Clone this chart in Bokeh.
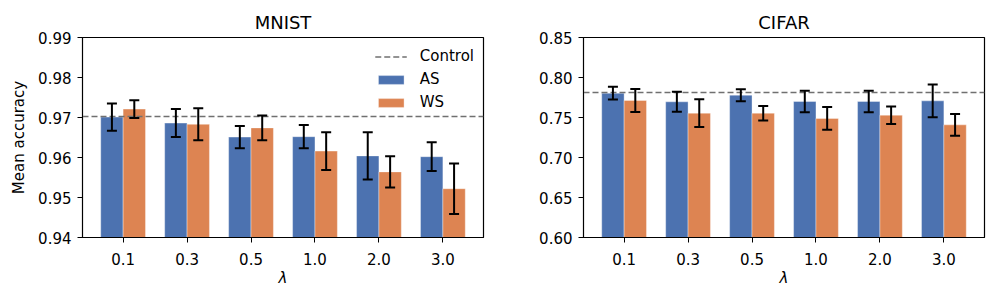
import numpy as np
from bokeh.plotting import figure
from bokeh.models import (ColumnDataSource, Range1d, FixedTicker, PrintfTickFormatter,
                          Whisker, TeeHead, Legend, LegendItem)
from bokeh.layouts import row
from bokeh.embed import file_html
from bokeh.resources import INLINE

lambdas = ["0.1", "0.3", "0.5", "1.0", "2.0", "3.0"]

mnist_as = [0.9701, 0.9686, 0.9651, 0.9652, 0.9604, 0.9602]
mnist_as_err = [0.0034, 0.0035, 0.0028, 0.0029, 0.0059, 0.0036]
mnist_ws = [0.9721, 0.9683, 0.9674, 0.9616, 0.9564, 0.9522]
mnist_ws_err = [0.0022, 0.0040, 0.0031, 0.0047, 0.0039, 0.0063]
mnist_control = 0.9703
mnist_yticks = [0.94, 0.95, 0.96, 0.97, 0.98, 0.99]

cifar_as = [0.7804, 0.7696, 0.7779, 0.7700, 0.7700, 0.7708]
cifar_as_err = [0.0080, 0.0125, 0.0075, 0.0135, 0.0133, 0.0204]
cifar_ws = [0.7713, 0.7554, 0.7554, 0.7488, 0.7529, 0.7408]
cifar_ws_err = [0.0143, 0.0173, 0.0090, 0.0142, 0.0110, 0.0137]
cifar_control = 0.7817
cifar_yticks = [0.60, 0.65, 0.70, 0.75, 0.80, 0.85]

BLUE = "#4c72b0"
ORANGE = "#dd8452"
FONT = "DejaVu Sans"
BW = 0.35


def panel(title, as_vals, as_err, ws_vals, ws_err, control, yticks, ylabel,
          width, left, right, legend):
    x = np.arange(len(lambdas))
    src = ColumnDataSource(dict(
        x_as=x - BW / 2, x_ws=x + BW / 2,
        as_v=as_vals, ws_v=ws_vals,
        as_lo=np.array(as_vals) - np.array(as_err), as_hi=np.array(as_vals) + np.array(as_err),
        ws_lo=np.array(ws_vals) - np.array(ws_err), ws_hi=np.array(ws_vals) + np.array(ws_err),
    ))
    span = len(lambdas) - 1 + 2 * BW
    pad = 0.05 * span
    p = figure(width=width, height=292, output_backend="svg", toolbar_location=None,
               x_range=Range1d(-BW - pad, len(lambdas) - 1 + BW + pad),
               y_range=Range1d(yticks[0], yticks[-1]),
               min_border_left=left, min_border_right=right,
               min_border_top=37, min_border_bottom=55)
    p.title.text = title
    p.title.align = "center"
    p.title.text_font = FONT
    p.title.text_font_size = "18px"
    p.title.text_font_style = "normal"
    p.title.text_color = "black"
    p.title.standoff = 10
    p.xgrid.visible = False
    p.ygrid.visible = False
    p.outline_line_color = "black"
    p.outline_line_width = 1.2
    p.outline_line_alpha = 1

    r_as = p.vbar(x="x_as", top="as_v", width=BW, source=src, fill_color=BLUE,
                  line_color="white", line_width=0.6, line_alpha=0.6)
    r_ws = p.vbar(x="x_ws", top="ws_v", width=BW, source=src, fill_color=ORANGE,
                  line_color="white", line_width=0.6, line_alpha=0.6)

    r_ctrl = p.hspan(y=[control], line_color="#707070", line_dash="6 3", line_width=1.6)

    for xc, lo, hi in (("x_as", "as_lo", "as_hi"), ("x_ws", "ws_lo", "ws_hi")):
        w = Whisker(base=xc, lower=lo, upper=hi, source=src, dimension="height",
                    line_color="black", line_width=2, level="overlay",
                    upper_head=TeeHead(size=10, line_color="black", line_width=2),
                    lower_head=TeeHead(size=10, line_color="black", line_width=2))
        p.add_layout(w)

    p.xaxis.ticker = FixedTicker(ticks=list(range(len(lambdas))))
    p.xaxis.major_label_overrides = {i: l for i, l in enumerate(lambdas)}
    p.yaxis.ticker = FixedTicker(ticks=yticks)
    p.yaxis.formatter = PrintfTickFormatter(format="%.2f")
    for ax in (p.xaxis[0], p.yaxis[0]):
        ax.minor_tick_line_color = None
        ax.major_tick_in = 0
        ax.major_tick_out = 5
        ax.major_tick_line_color = "black"
        ax.axis_line_color = "black"
        ax.major_label_text_font = FONT
        ax.major_label_text_font_size = "15px"
        ax.major_label_text_color = "black"
        ax.axis_label_text_font = FONT
        ax.axis_label_text_font_size = "15px"
        ax.axis_label_text_color = "black"
    p.xaxis.axis_label = "λ"
    p.xaxis.axis_label_text_font_style = "italic"
    p.xaxis.major_label_standoff = 10
    p.xaxis.axis_label_standoff = 1
    p.yaxis.major_label_standoff = 6
    if ylabel:
        p.yaxis.axis_label = ylabel
        p.yaxis.axis_label_text_font_style = "normal"
        p.yaxis.axis_label_standoff = 7

    if legend:
        leg = Legend(items=[LegendItem(label="Control", renderers=[r_ctrl]),
                            LegendItem(label="AS", renderers=[r_as]),
                            LegendItem(label="WS", renderers=[r_ws])],
                     location="top_right", margin=0, padding=9,
                     glyph_width=32, glyph_height=11, label_standoff=13,
                     label_height=20, spacing=3,
                     label_text_font=FONT, label_text_font_size="15px",
                     label_text_color="black",
                     border_line_alpha=0, background_fill_alpha=0)
        p.add_layout(leg)
    return p


p1 = panel("MNIST", mnist_as, mnist_as_err, mnist_ws, mnist_ws_err, mnist_control,
           mnist_yticks, "Mean accuracy", 498, 82, 15, True)
p2 = panel("CIFAR", cifar_as, cifar_as_err, cifar_ws, cifar_ws_err, cifar_control,
           cifar_yticks, None, 491, 85, 5, False)

p = row(p1, p2)
open("out.html", "w").write(file_html(p, INLINE))
